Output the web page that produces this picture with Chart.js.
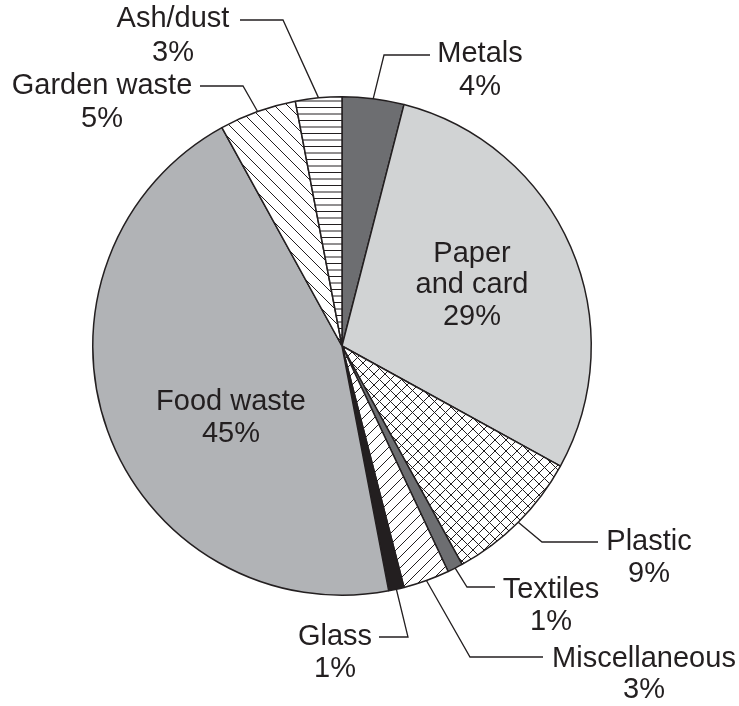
<!DOCTYPE html>
<html>
<head>
<meta charset="utf-8">
<script src="https://cdn.jsdelivr.net/npm/chart.js@4"></script>
<style>
  body { margin: 0; background: #fff; }
  #wrap { width: 739px; height: 706px; position: relative; }
</style>
</head>
<body>
<div id="wrap"><canvas id="wasteChart"></canvas></div>
<script>
const categories = ['Metals', 'Paper and card', 'Plastic', 'Textiles', 'Miscellaneous', 'Glass', 'Food waste', 'Garden waste', 'Ash/dust'];
const percentages = [4, 29, 9, 1, 3, 1, 45, 5, 3];

const ink = '#231f20';

// small tiled fills for the hatched slices
function makePattern(kind, size) {
  const c = document.createElement('canvas');
  c.width = size;
  c.height = size;
  const g = c.getContext('2d');
  g.fillStyle = '#ffffff';
  g.fillRect(0, 0, size, size);
  g.strokeStyle = ink;
  g.lineWidth = 1;
  g.beginPath();
  if (kind === 'horizontal') {
    g.moveTo(0, 3.5); g.lineTo(size, 3.5);
    g.moveTo(0, 10); g.lineTo(size, 10);
  }
  for (const k of [-size, 0, size]) {
    if (kind === 'back' || kind === 'cross') {
      g.moveTo(k, 0); g.lineTo(k + size, size);
    }
    if (kind === 'forward' || kind === 'cross') {
      g.moveTo(k + size, 0); g.lineTo(k, size);
    }
  }
  g.stroke();
  return g.createPattern(c, 'repeat');
}

const sliceFills = [
  '#6d6e71',
  '#d1d3d4',
  makePattern('cross', 11),
  '#6d6e71',
  makePattern('forward', 11),
  ink,
  '#b1b3b6',
  makePattern('back', 13),
  makePattern('horizontal', 13)
];

// where each label sits; leader runs from the slice edge to elbow then to end
const labelLayout = [
  { x: 480, base: [62, 95], elbow: [384, 55], end: [430, 55] },
  { x: 472, base: [262, 293, 325], wrap: true },
  { x: 649, base: [550, 582], elbow: [542, 542], end: [598, 542] },
  { x: 551, base: [598, 630], elbow: [467, 587], end: [495, 587] },
  { x: 644, base: [667, 698], elbow: [470, 657], end: [543, 657] },
  { x: 335, base: [645, 677], elbow: [408, 637], end: [379, 637] },
  { x: 231, base: [410, 442] },
  { x: 102, base: [94, 127], elbow: [243, 86], end: [200, 86] },
  { x: 173, base: [27, 61], elbow: [283, 20], end: [240, 20] }
];

const sliceLabels = {
  id: 'sliceLabels',
  afterDatasetsDraw(chart) {
    const ctx = chart.ctx;
    const meta = chart.getDatasetMeta(0);
    ctx.save();
    ctx.strokeStyle = ink;
    ctx.lineWidth = 1.3;
    ctx.fillStyle = ink;
    ctx.font = '29px "Liberation Sans", Arial, sans-serif';
    ctx.textAlign = 'center';
    ctx.textBaseline = 'alphabetic';
    meta.data.forEach((arc, i) => {
      const p = arc.getProps(['x', 'y', 'startAngle', 'endAngle', 'outerRadius'], true);
      const lay = labelLayout[i];
      if (lay.elbow) {
        const mid = (p.startAngle + p.endAngle) / 2;
        ctx.beginPath();
        ctx.moveTo(p.x + Math.cos(mid) * p.outerRadius, p.y + Math.sin(mid) * p.outerRadius);
        ctx.lineTo(lay.elbow[0], lay.elbow[1]);
        ctx.lineTo(lay.end[0], lay.end[1]);
        ctx.stroke();
      }
      const name = categories[i];
      const lines = lay.wrap
        ? [name.slice(0, name.indexOf(' ')), name.slice(name.indexOf(' ') + 1)]
        : [name];
      lines.push(percentages[i] + '%');
      lines.forEach((t, j) => ctx.fillText(t, lay.x, lay.base[j]));
    });
    ctx.restore();
  }
};

new Chart(document.getElementById('wasteChart'), {
  type: 'pie',
  data: {
    labels: categories,
    datasets: [{
      data: percentages,
      backgroundColor: sliceFills,
      borderColor: ink,
      borderWidth: 1.5
    }]
  },
  options: {
    responsive: true,
    maintainAspectRatio: false,
    animation: false,
    events: [],
    layout: { padding: { left: 92, right: 147, top: 96, bottom: 110 } },
    plugins: {
      legend: { display: false },
      tooltip: { enabled: false }
    }
  },
  plugins: [sliceLabels]
});
</script>
</body>
</html>
